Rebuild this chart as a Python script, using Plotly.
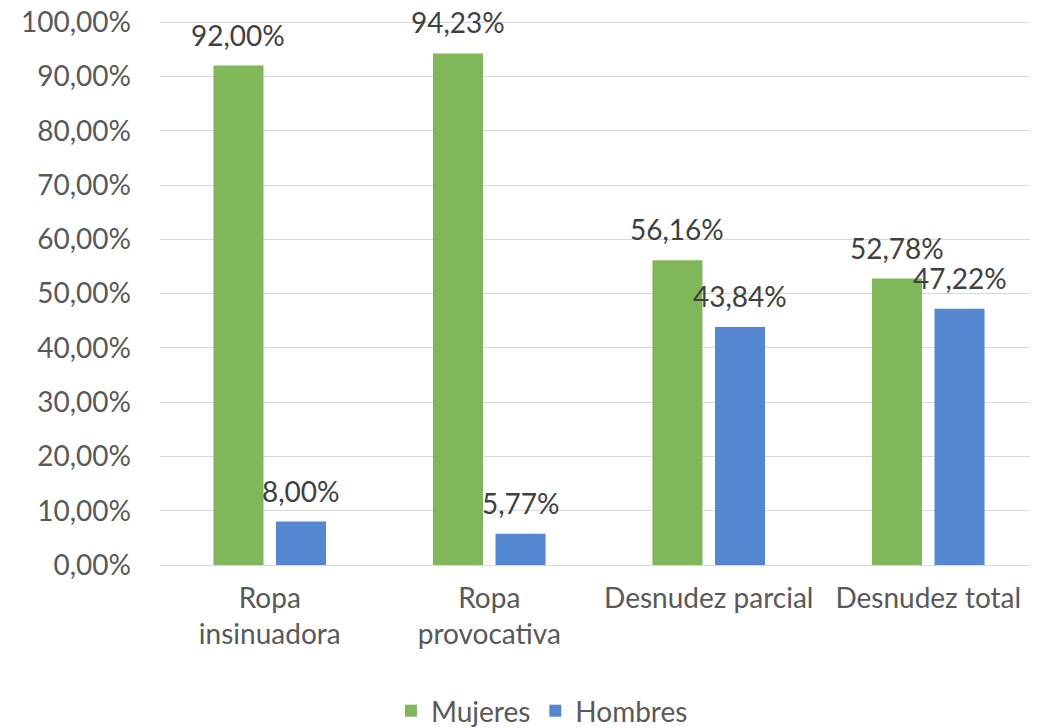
import plotly.graph_objects as go

categorias = ["Ropa<br>insinuadora", "Ropa<br>provocativa", "Desnudez parcial", "Desnudez total"]
mujeres = [0.92, 0.9423, 0.5616, 0.5278]
hombres = [0.08, 0.0577, 0.4384, 0.4722]
series = [("Mujeres", mujeres, "#80B75A"), ("Hombres", hombres, "#5587D0")]

fuente = "Lato"
gris = "#595959"
tam = 28

fig = go.Figure()
for nombre, valores, color in series:
    fig.add_trace(go.Bar(x=categorias, y=valores, name=nombre, marker_color=color,
                         marker_line_width=0))

# etiquetas de datos encima de las barras
anotaciones = []
for i, (nombre, valores, color) in enumerate(series):
    desplaz = -31.5 if i == 0 else 31.5
    for cat, v in zip(categorias, valores):
        anotaciones.append(dict(x=cat, y=v, xref="x", yref="y", xshift=desplaz, yshift=12,
                                text=f"{v*100:.2f}%".replace(".", ","), showarrow=False,
                                yanchor="bottom", font=dict(family=fuente, size=tam, color="#404040")))

fig.update_layout(
    width=1030, height=720,
    margin=dict(l=152, r=0, t=12, b=163, autoexpand=False),
    barmode="group", bargap=0.43, bargroupgap=0.2,
    plot_bgcolor="white", paper_bgcolor="white",
    separators=",.",
    font=dict(family=fuente, size=tam, color=gris),
    annotations=anotaciones,
    legend=dict(orientation="h", x=0.435, xref="paper", xanchor="center", y=-0.222, yanchor="top",
                font=dict(size=tam, color=gris), itemwidth=30),
    showlegend=True,
)
fig.update_yaxes(range=[0, 1.004], tickvals=[i / 10 for i in range(11)], tickformat=".2%",
                 showgrid=True, gridcolor="#D9D9D9", ticklabeloverflow="allow",
                 gridwidth=1.3, zeroline=True, zerolinecolor="#D9D9D9", zerolinewidth=1.3,
                 ticklabelstandoff=28, tickfont=dict(size=tam, color=gris))
fig.update_xaxes(showline=False, ticks="", ticklabelstandoff=14, tickfont=dict(size=tam, color=gris))

fig.write_html("out.html")
